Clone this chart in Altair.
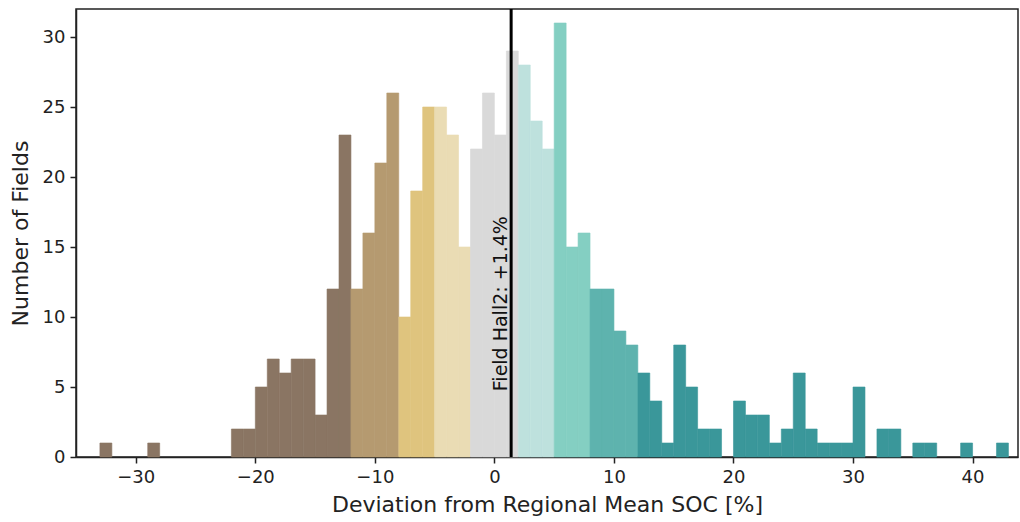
import altair as alt
import pandas as pd

# histogram bins (1 % wide), starting edges and counts
bin_starts = list(range(-33, 43))
counts = [1, 0, 0, 0, 1, 0, 0, 0, 0, 0, 0,          # -33 .. -23
          2, 2, 5, 7, 6, 7, 7, 3, 12, 23,           # -22 .. -13
          12, 16, 21, 26,                           # -12 .. -9
          10, 19, 25,                               # -8 .. -6
          25, 23, 15,                               # -5 .. -3
          22, 26, 23, 29,                           # -2 .. 1
          28, 24, 22,                               # 2 .. 4
          31, 15, 16,                               # 5 .. 7
          12, 12, 9, 8,                             # 8 .. 11
          6, 4, 1, 8, 5, 2, 2, 0, 4, 3, 3, 1, 2, 6, 2, 1, 1, 1, 5, 0,
          2, 2, 0, 1, 1, 0, 0, 1, 0, 0, 1]          # 12 .. 42

# colour classes: upper edges of each class and their colours
class_edges = [-12, -8, -5, -2, 2, 5, 8, 12, 100]
class_colors = ["#8A7563", "#B59A70", "#DFC47E", "#EADCB4", "#D9D9D9",
                "#BEE1DD", "#84CFC2", "#5EB3AE", "#3A979A"]

field_name = "Hall2"
field_value = 1.4

x_ticks = [-30, -20, -10, 0, 10, 20, 30, 40]
y_ticks = [0, 5, 10, 15, 20, 25, 30]

def klass(s):
    for i, e in enumerate(class_edges):
        if s < e:
            return i
    return len(class_edges) - 1

df = pd.DataFrame({
    "start": bin_starts,
    "end": [s + 1 for s in bin_starts],
    "count": counts,
})
df["base"] = 0
df["cls"] = [str(klass(s)) for s in bin_starts]
df = df[df["count"] > 0]

FONT = "DejaVu Sans"
xscale = alt.Scale(domain=[-35, 43.8], nice=False, zero=False)
yscale = alt.Scale(domain=[0, 32], nice=False)
cscale = alt.Scale(domain=[str(i) for i in range(len(class_colors))], range=class_colors)

bars = alt.Chart(df).mark_bar(strokeWidth=0.6, opacity=1).encode(
    x=alt.X("start:Q", scale=xscale,
            axis=alt.Axis(title="Deviation from Regional Mean SOC [%]", values=x_ticks,
                          format="d", grid=False)),
    x2="end:Q",
    y=alt.Y("count:Q", scale=yscale,
            axis=alt.Axis(title="Number of Fields", values=y_ticks, grid=False)),
    y2="base:Q",
    color=alt.Color("cls:N", scale=cscale, legend=None),
    stroke=alt.Stroke("cls:N", scale=cscale, legend=None),
)

mark_df = pd.DataFrame({"x": [field_value], "y": [4.7],
                        "label": [f"Field {field_name}: +{field_value}%"]})

vline = alt.Chart(mark_df).mark_rule(color="black", strokeWidth=3).encode(
    x=alt.X("x:Q", scale=xscale)
)

label = alt.Chart(mark_df).mark_text(
    angle=270, align="left", baseline="bottom", font=FONT, fontSize=19, color="#111111"
).encode(
    x=alt.X("x:Q", scale=xscale),
    y=alt.Y("y:Q", scale=yscale),
    text="label:N",
)

chart = alt.layer(bars, vline, label).properties(
    width=942, height=448,
    autosize=alt.AutoSizeParams(type="none"),
    padding={"left": 76, "top": 9, "right": 2, "bottom": 65},
).configure_view(
    stroke="#222222", strokeWidth=1.5
).configure_axis(
    domainColor="#222222", domainWidth=1.5, tickColor="#222222", tickWidth=1.5,
    tickSize=6, labelFont=FONT, labelFontSize=18, labelColor="#222222",
    titleFont=FONT, titleFontSize=22, titleFontWeight="normal", titleColor="#222222",
    labelPadding=5,
).configure_axisY(
    titlePadding=10,
).configure_axisX(
    titlePadding=8,
)

chart.save("out.html", embed_options={"renderer": "svg", "actions": False})
